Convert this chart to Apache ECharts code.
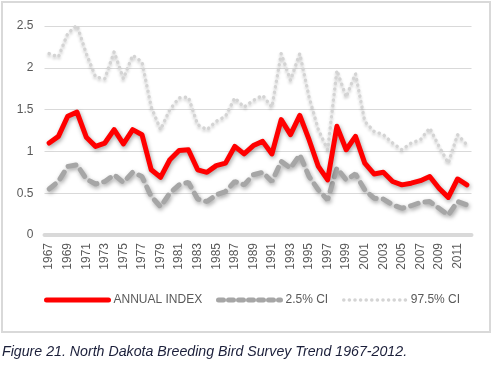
<!DOCTYPE html>
<html><head><meta charset="utf-8">
<script src="https://cdn.jsdelivr.net/npm/echarts@6/dist/echarts.min.js"></script>
<style>
html,body{margin:0;padding:0;background:#fff;}
#box{position:absolute;left:1px;top:1px;width:490px;height:332px;border:2px solid #d9d9d9;box-sizing:border-box;}
#chart{position:absolute;left:0;top:0;width:497px;height:365px;}
#cap{position:absolute;left:2px;top:343px;font-family:'Liberation Sans',sans-serif;font-style:italic;font-size:14.2px;color:#1b1f3a;white-space:nowrap;}
</style></head>
<body>
<div id="box"></div>
<div id="chart"></div>
<div id="cap">Figure 21. North Dakota Breeding Bird Survey Trend 1967-2012.</div>
<script>
const years = ["1967","1968","1969","1970","1971","1972","1973","1974","1975","1976","1977","1978","1979","1980","1981","1982","1983","1984","1985","1986","1987","1988","1989","1990","1991","1992","1993","1994","1995","1996","1997","1998","1999","2000","2001","2002","2003","2004","2005","2006","2007","2008","2009","2010","2011","2012"];
const annualIndex = [1.10,1.18,1.42,1.47,1.17,1.06,1.10,1.26,1.09,1.26,1.20,0.78,0.69,0.90,1.01,1.02,0.78,0.75,0.83,0.86,1.06,0.97,1.07,1.12,0.97,1.38,1.20,1.43,1.14,0.82,0.66,1.30,1.02,1.18,0.86,0.73,0.75,0.64,0.60,0.62,0.65,0.70,0.56,0.45,0.67,0.60];
const ci025 = [0.55,0.64,0.82,0.84,0.67,0.61,0.64,0.72,0.63,0.75,0.70,0.46,0.34,0.50,0.60,0.63,0.43,0.40,0.48,0.52,0.64,0.60,0.72,0.75,0.64,0.88,0.80,0.96,0.70,0.54,0.42,0.80,0.66,0.73,0.54,0.44,0.43,0.36,0.32,0.35,0.39,0.40,0.32,0.24,0.40,0.36];
const ci975 = [2.17,2.13,2.41,2.51,2.17,1.89,1.87,2.19,1.87,2.15,2.07,1.53,1.26,1.50,1.64,1.65,1.32,1.26,1.36,1.42,1.64,1.53,1.61,1.67,1.53,2.17,1.85,2.17,1.65,1.26,1.02,1.97,1.65,1.93,1.36,1.24,1.20,1.10,1.02,1.10,1.14,1.28,1.06,0.86,1.20,1.08];
const yTicks = {min:0,max:2.5,interval:0.5};

const font = 'Liberation Sans';
const shadow = {shadowBlur:4,shadowColor:'rgba(0,0,0,0.35)',shadowOffsetX:1,shadowOffsetY:2};
const chart = echarts.init(document.getElementById('chart'),null,{renderer:'canvas'});
function lg(name,left,ls){
  return {data:[name],left:left,top:294,padding:0,itemWidth:62,itemHeight:12,itemGap:5,
    itemStyle:{opacity:0},lineStyle:ls,
    textStyle:{fontFamily:font,fontSize:12,color:'#595959'}};
}
chart.setOption({
  animation:false,
  grid:{left:44.5,right:25.5,top:26,bottom:130,containLabel:false},
  legend:[
    lg('ANNUAL INDEX',44,{width:5,color:'#ff0000',cap:'round'}),
    lg('2.5% CI',216,{width:5,color:'#a6a6a6',type:[5,5],cap:'round'}),
    lg('97.5% CI',342,{width:3.5,color:'#d4d4d4',type:[0.1,5.5],cap:'round'})],
  xAxis:{type:'category',data:years,boundaryGap:true,
    axisLine:{lineStyle:{color:'#d9d9d9',width:4}},
    axisTick:{show:false},
    axisLabel:{interval:1,rotate:90,fontFamily:font,fontSize:12,color:'#595959',margin:8}},
  yAxis:{type:'value',min:yTicks.min,max:yTicks.max,interval:yTicks.interval,
    axisLine:{show:false},axisTick:{show:false},
    splitLine:{lineStyle:{color:'#d9d9d9',width:1}},
    axisLabel:{fontFamily:font,fontSize:12,color:'#595959',margin:11}},
  series:[
    {name:'97.5% CI',type:'line',data:ci975,symbol:'none',z:1,
      lineStyle:{color:'#d4d4d4',width:3.5,type:[0.1,5.5],cap:'round',shadowBlur:3,shadowColor:'rgba(0,0,0,0.2)',shadowOffsetY:2},
      itemStyle:{color:'#d4d4d4'}},
    {name:'2.5% CI',type:'line',data:ci025,symbol:'none',z:2,
      lineStyle:Object.assign({color:'#a6a6a6',width:5,type:[8,7],cap:'round'},shadow),
      itemStyle:{color:'#a6a6a6'}},
    {name:'ANNUAL INDEX',type:'line',data:annualIndex,symbol:'none',z:3,
      lineStyle:Object.assign({color:'#ff0000',width:5,cap:'round',join:'round'},shadow),
      itemStyle:{color:'#ff0000'}}
  ]
});
</script>
</body></html>
